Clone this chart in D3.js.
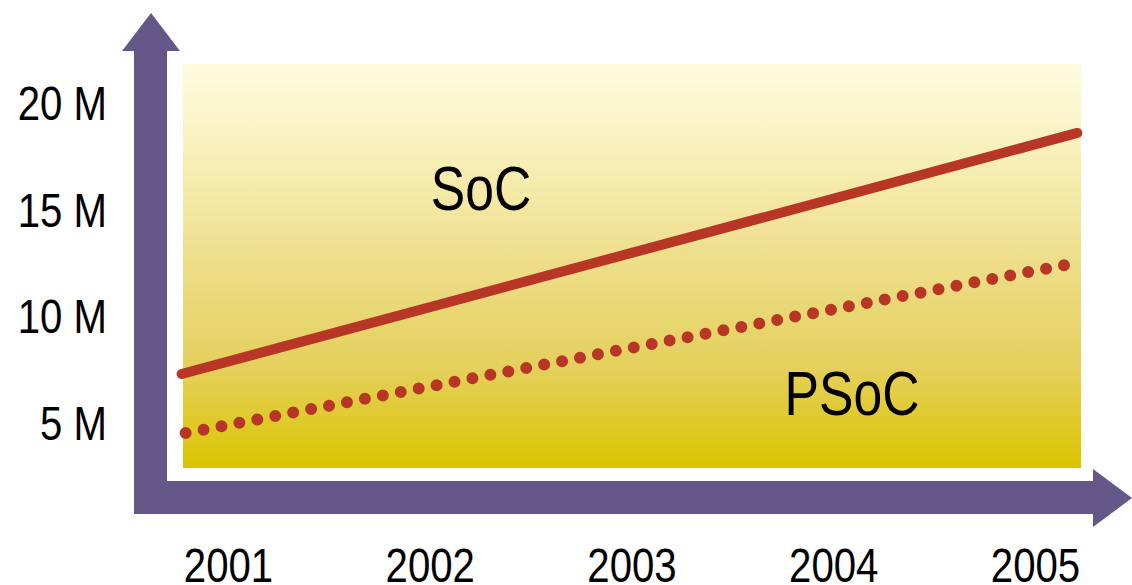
<!DOCTYPE html>
<html>
<head>
<meta charset="utf-8">
<script src="https://cdn.jsdelivr.net/npm/d3@7"></script>
<style>
  html, body { margin: 0; padding: 0; background: #fff; overflow: hidden; }
  text { font-family: "Liberation Sans", Arial, sans-serif; fill: #000; }
</style>
</head>
<body>
<div id="chart"></div>
<script>
// data
const years = [2001, 2002, 2003, 2004, 2005]
const yTicks = [5, 10, 15, 20]          // millions
const socYears = [2000.77, 2005.21]
const socValues = [7.25, 18.55]
const psocYears = [2000.79, 2005.15]
const psocValues = [4.48, 12.36]

const width = 1132
const height = 585
const purple = '#655788'
const red = '#b83626'
const narrow = 'scale(0.82,1)'   // no narrow font installed, squeeze instead

const svg = d3.select('#chart')
  .append('svg')
  .attr('width', width)
  .attr('height', height)

const x = d3.scaleLinear().domain([2001, 2005]).range([228, 1035])
const y = d3.scaleLinear().domain([5, 20]).range([422, 102])

// background gradient
const grad = svg.append('defs')
  .append('linearGradient')
  .attr('id', 'bg-grad')
  .attr('x1', 0).attr('x2', 0).attr('y1', 0).attr('y2', 1)
grad.selectAll('stop')
  .data([
    { offset: '0%', color: '#fefbe0' },
    { offset: '25%', color: '#f7eeb4' },
    { offset: '50%', color: '#eddd88' },
    { offset: '75%', color: '#e4d05c' },
    { offset: '100%', color: '#dbc500' },
  ])
  .enter()
  .append('stop')
  .attr('offset', d => d.offset)
  .attr('stop-color', d => d.color)

svg.append('rect')
  .attr('x', 183).attr('y', 64)
  .attr('width', 898).attr('height', 404)
  .attr('fill', 'url(#bg-grad)')

// axis arrows
svg.append('path')
  .attr('fill', purple)
  .attr('d', 'M134,514 L134,51 L122,51 L151,13 L180,51 L167,51 L167,514 Z')
svg.append('path')
  .attr('fill', purple)
  .attr('d', 'M134,481 L1093,481 L1093,469 L1132,498 L1093,527 L1093,514 L134,514 Z')

// y axis labels
const yAxis = d3.axisLeft(y)
  .tickValues(yTicks)
  .tickSize(0)
  .tickPadding(0)
  .tickFormat(d => d + ' M')
const gy = svg.append('g')
  .attr('transform', 'translate(107,0)')
  .call(yAxis)
gy.select('.domain').remove()
gy.selectAll('text')
  .attr('font-family', null)
  .attr('font-size', 49)
  .attr('dy', '0.36em')
  .attr('transform', narrow)
  .style('font-family', '"Liberation Sans", Arial, sans-serif')
  .attr('fill', '#000')

// x axis labels
const xAxis = d3.axisBottom(x)
  .tickValues(years)
  .tickSize(0)
  .tickPadding(0)
  .tickFormat(d3.format('d'))
const gx = svg.append('g')
  .attr('transform', 'translate(0,582)')
  .call(xAxis)
gx.select('.domain').remove()
gx.selectAll('text')
  .attr('font-family', null)
  .attr('font-size', 49)
  .attr('dy', 0)
  .attr('y', 0)
  .attr('transform', narrow)
  .style('font-family', '"Liberation Sans", Arial, sans-serif')
  .attr('fill', '#000')

// lines
const line = d3.line()
  .x(d => x(d[0]))
  .y(d => y(d[1]))

svg.append('path')
  .datum(d3.zip(socYears, socValues))
  .attr('fill', 'none')
  .attr('stroke', red)
  .attr('stroke-width', 10)
  .attr('stroke-linecap', 'round')
  .attr('d', line)

svg.append('path')
  .datum(d3.zip(psocYears, psocValues))
  .attr('fill', 'none')
  .attr('stroke', red)
  .attr('stroke-width', 12)
  .attr('stroke-linecap', 'round')
  .attr('stroke-dasharray', '0 18.25')
  .attr('d', line)

// series labels
svg.append('text')
  .attr('transform', 'translate(481,210) ' + narrow)
  .attr('text-anchor', 'middle')
  .attr('font-size', 63)
  .text('SoC')
svg.append('text')
  .attr('transform', 'translate(852,415) ' + narrow)
  .attr('text-anchor', 'middle')
  .attr('font-size', 63)
  .text('PSoC')
</script>
</body>
</html>
